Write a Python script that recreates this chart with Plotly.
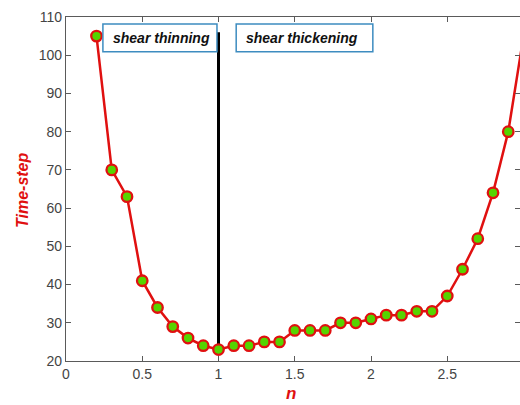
import plotly.graph_objects as go

n_values = [0.2, 0.3, 0.4, 0.5, 0.6, 0.7, 0.8, 0.9, 1.0, 1.1, 1.2, 1.3, 1.4, 1.5,
            1.6, 1.7, 1.8, 1.9, 2.0, 2.1, 2.2, 2.3, 2.4, 2.5, 2.6, 2.7, 2.8, 2.9, 3.0]
time_steps = [105, 70, 63, 41, 34, 29, 26, 24, 23, 24, 24, 25, 25, 28,
              28, 28, 30, 30, 31, 32, 32, 33, 33, 37, 44, 52, 64, 80, 105]
divider_x = [1.0, 1.0]
divider_y = [23, 106]
x_ticks = [0, 0.5, 1, 1.5, 2, 2.5]
x_tick_labels = ["0", "0.5", "1", "1.5", "2", "2.5"]
y_ticks = [20, 30, 40, 50, 60, 70, 80, 90, 100, 110]
region_labels = ["shear thinning", "shear thickening"]

RED = "#e01010"
GREEN = "#55d400"
AX = "#5a5a5a"

fig = go.Figure()
fig.add_trace(go.Scatter(x=divider_x, y=divider_y, mode="lines",
                         line=dict(color="black", width=3), showlegend=False))
fig.add_trace(go.Scatter(x=n_values, y=time_steps, mode="lines+markers",
                         line=dict(color=RED, width=2.5),
                         marker=dict(color=GREEN, size=10.5, line=dict(color=RED, width=2.3)),
                         showlegend=False, cliponaxis=False))

# label boxes
boxes = [(0.242, 0.99), (1.116, 2.012)]
for (x0, x1), txt in zip(boxes, region_labels):
    fig.add_shape(type="rect", x0=x0, x1=x1, y0=100.9, y1=108.2, xref="x", yref="y",
                  line=dict(color="#3d8cc0", width=1.5), fillcolor="white")
    fig.add_annotation(x=x0, y=104.6, xref="x", yref="y", text=f"<b><i>{txt}</i></b>",
                       xanchor="left", yanchor="middle", xshift=8,
                       showarrow=False, font=dict(family="Liberation Sans, Arial", size=14, color="#111"))

L, R, T, B = 66, 0, 17, 44
W, H = 520, 405
pw = W - L - R
ph = H - T - B

fig.add_annotation(xref="paper", yref="paper", x=(22 - L) / pw, y=(H - B - 190) / ph,
                   xanchor="center", yanchor="middle",
                   text="<b><i>Time-step</i></b>", textangle=-90, showarrow=False,
                   font=dict(family="Liberation Sans, Arial", size=16, color=RED))
fig.add_annotation(xref="paper", yref="paper", x=(291 - L) / pw, y=-(393 - (H - B)) / ph,
                   xanchor="center", yanchor="middle",
                   text="<b><i>n</i></b>", showarrow=False,
                   font=dict(family="Liberation Sans, Arial", size=17, color=RED))

fig.update_layout(
    width=W, height=H, margin=dict(l=L, r=R, t=T, b=B),
    plot_bgcolor="white", paper_bgcolor="white",
    font=dict(family="Liberation Sans, Arial", size=14, color="#444"),
)
fig.update_xaxes(range=[0, 2.977], tickvals=x_ticks, ticktext=x_tick_labels,
                 showgrid=False, zeroline=False, showline=True, linecolor=AX, linewidth=1.2,
                 mirror="ticks", ticks="inside", ticklen=5, tickcolor=AX)
fig.update_yaxes(range=[20, 110], tickvals=y_ticks,
                 showgrid=False, zeroline=False, showline=True, linecolor=AX, linewidth=1.2,
                 mirror="ticks", ticks="inside", ticklen=5, tickcolor=AX)

fig.write_html("out.html")
